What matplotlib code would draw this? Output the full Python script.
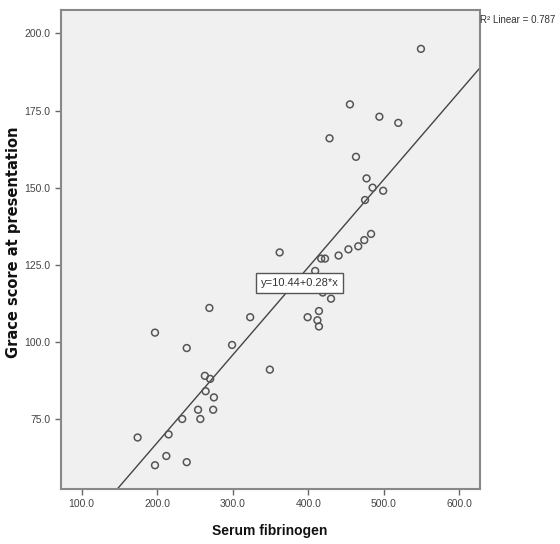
import matplotlib
matplotlib.use("Agg")
import matplotlib.pyplot as plt
import numpy as np

# Data
fibrinogen = [549, 455, 494, 519, 428, 463, 477, 485, 499, 475,
              483, 474, 466, 453, 440, 422, 417, 409, 419, 430,
              414, 399, 412, 414, 362, 269, 323, 197, 239, 299,
              349, 263, 270, 264, 275, 254, 274, 257, 233, 215,
              174, 212, 197, 239]
grace = [195, 177, 173, 171, 166, 160, 153, 150, 149, 146,
         135, 133, 131, 130, 128, 127, 127, 123, 116, 114,
         110, 108, 107, 105, 129, 111, 108, 103, 98, 99,
         91, 89, 88, 84, 82, 78, 78, 75, 75, 70,
         69, 63, 60, 61]
fit_intercept = 10.44
fit_slope = 0.2845
equation_text = "y=10.44+0.28*x"
r2_text = "R\u00b2 Linear = 0.787"
x_ticks = [100, 200, 300, 400, 500, 600]
y_ticks = [75, 100, 125, 150, 175, 200]
xlim = (72.6, 626.5)
ylim = (52.3, 207.6)

sans = ['Liberation Sans', 'DejaVu Sans']

fig = plt.figure(figsize=(5.6, 5.44), dpi=100)
ax = fig.add_axes([61/560, 55/544, (479.5-61)/560, (489-10)/544])
ax.set_facecolor('#f0f0f0')

ax.scatter(fibrinogen, grace, s=24, facecolors='none', edgecolors='#555555',
           linewidths=1.1, zorder=3)

xs = np.array(xlim)
ax.plot(xs, fit_intercept + fit_slope * xs, color='#444444', lw=1.0, zorder=2)

ax.set_xlim(*xlim)
ax.set_ylim(*ylim)
ax.set_xticks(x_ticks)
ax.set_yticks(y_ticks)
ax.set_xticklabels([f"{t:.1f}" for t in x_ticks], family=sans, fontsize=7.5, color='#444444')
ax.set_yticklabels([f"{t:.1f}" for t in y_ticks], family=sans, fontsize=7.5, color='#444444')
ax.tick_params(axis='both', length=4.5, width=1.0, color='#666666', pad=3)
for s in ax.spines.values():
    s.set_color('#888888')
    s.set_linewidth(1.5)

fig.text(270/560, 1 - 531/544, "Serum fibrinogen", family=sans,
         fontweight='bold', fontsize=10, color='#111111', ha='center', va='center')
fig.text(14/560, 1 - 242/544, "Grace score at presentation", rotation=90,
         family='DejaVu Sans', fontweight='bold', fontsize=10.5, color='#111111',
         ha='center', va='center')

fig.text(480/560, 1 - 20/544, r2_text, family=sans, fontsize=7, color='#333333',
         ha='left', va='center')

# equation box placed at its pixel position (converted to data coordinates)
bx = xlim[0] + (299.5 - 61) / (479.5 - 61) * (xlim[1] - xlim[0])
by = ylim[1] - (283 - 10) / (489 - 10) * (ylim[1] - ylim[0])
ax.text(bx, by, equation_text, family=sans, fontsize=8, color='#333333',
        ha='center', va='center', zorder=5,
        bbox=dict(boxstyle='square,pad=0.45', facecolor='white', edgecolor='#555555', lw=1.0))

fig.savefig("out.png", dpi=100)
